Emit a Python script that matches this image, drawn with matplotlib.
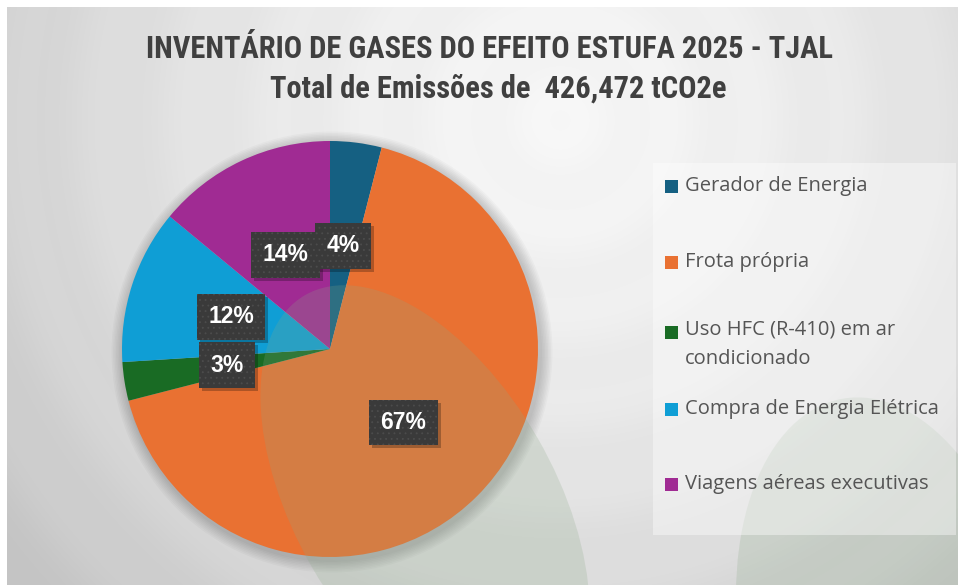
import numpy as np
import matplotlib
matplotlib.use("Agg")
import matplotlib.pyplot as plt
from matplotlib import font_manager as fm
from matplotlib.patches import Ellipse, Rectangle, Circle
import matplotlib.transforms as mtransforms

# dados
categorias = ["Gerador de Energia", "Frota própria", "Uso HFC (R-410) em ar\ncondicionado",
              "Compra de Energia Elétrica", "Viagens aéreas executivas"]
percentuais = [4, 67, 3, 12, 14]
cores = ["#156082", "#e97132", "#196b24", "#0f9ed5", "#a02b93"]
titulo = "INVENTÁRIO DE GASES DO EFEITO ESTUFA 2025 - TJAL"
subtitulo = "Total de Emissões de  426,472 tCO2e"


def fonte_disponivel(nomes, padrao="DejaVu Sans"):
    for n in nomes:
        try:
            fm.findfont(fm.FontProperties(family=n), fallback_to_default=False)
            return n
        except ValueError:
            pass
    return padrao


fonte_titulo = fonte_disponivel(["Liberation Sans Narrow", "Roboto Condensed", "Roboto"])
fonte_legenda = fonte_disponivel(["Open Sans", "Noto Sans", "Lato"])
fonte_rotulo = fonte_disponivel(["Liberation Sans", "Arial"])

W, H = 958, 585
fig = plt.figure(figsize=(W / 100, H / 100), dpi=100)
fig.patch.set_facecolor("white")
ax = fig.add_axes([0, 0, 1, 1])
ax.axis("off")

# fundo com gradiente radial
xx, yy = np.meshgrid(np.arange(W), np.arange(H))
r = np.sqrt((xx - 560) ** 2 + (yy - 120) ** 2)
v = 0.965 - 0.2 * (r / 720) ** 1.5 + 0.006 * np.sin(r / 14.0)
v = np.clip(v, 0, 1)
img = np.dstack([v, v, v])
img[:7, :, :] = 1.0
img[:, :7, :] = 1.0
ax.imshow(img, extent=(0, W, 0, H), origin="upper", zorder=0, interpolation="bilinear")

# pizza
cx, cy, R = 330, H - 349, 208
for k in range(8):
    ax.add_patch(Circle((cx + 2, cy - 3), R + 2 + k * 1.5, color="black",
                        alpha=0.025, lw=0, zorder=1))
wedges, textos, autos = ax.pie(percentuais, colors=cores, startangle=90, counterclock=False,
                               center=(cx, cy), radius=R, autopct="%d%%", pctdistance=0.5,
                               wedgeprops=dict(linewidth=0),
                               textprops=dict(color="white", fontsize=16.5, fontweight="bold",
                                              family=fonte_rotulo))
for w in wedges:
    w.set_zorder(2)
ax.set_xlim(0, W)
ax.set_ylim(0, H)
ax.set_aspect("equal")
ax.axis("off")

# formas verdes decorativas
verde = "#8aa886"
ax.add_patch(Ellipse((425, H - 503), 260, 480, angle=30, color=verde, alpha=0.22, lw=0, zorder=3))
ax.add_patch(Ellipse((885, H - 640), 290, 490, angle=10, color=verde, alpha=0.22, lw=0, zorder=3))

# caixa da legenda
ax.add_patch(Rectangle((653, H - 535), 303, 372, facecolor="white", alpha=0.4, lw=0, zorder=4))
leg_y = [186, 262, 332, 409, 484]
for cat, cor, y in zip(categorias, cores, leg_y):
    ax.add_patch(Rectangle((665, H - y - 6.5), 13, 13, facecolor=cor, lw=0, zorder=5))
    if "\n" in cat:
        ax.text(685, H - y + 12.5, cat, fontsize=14.5, color="#555555", family=fonte_legenda,
                va="top", ha="left", zorder=5, linespacing=1.6)
    else:
        ax.text(685, H - y, cat, fontsize=14.5, color="#555555", family=fonte_legenda,
                va="center", ha="left", zorder=5)

# rótulos com caixa escura e sombra
plt.rcParams["hatch.linewidth"] = 0.6
caixa = "square,pad=0.5"
for t in autos:
    t.set_zorder(7)
    t.set_bbox(dict(boxstyle=caixa, facecolor="#3a3a3a", edgecolor="#4c4c4c",
                    hatch="...", linewidth=0))
    x, y = t.get_position()
    tr = mtransforms.offset_copy(ax.transData, fig=fig, x=3, y=-3, units="dots")
    ax.text(x, y, t.get_text(), transform=tr, ha="center", va="center", fontsize=16.5,
            fontweight="bold", family=fonte_rotulo, color=(0, 0, 0, 0), zorder=6,
            bbox=dict(boxstyle=caixa, facecolor="black", alpha=0.25, lw=0))

# títulos
ax.text(490, H - 49, titulo, ha="center", va="center", fontsize=22, fontweight="bold",
        color="#404040", family=fonte_titulo, zorder=5)
ax.text(498, H - 89, subtitulo, ha="center", va="center", fontsize=22, fontweight="bold",
        color="#404040", family=fonte_titulo, zorder=5)

fig.savefig("out.png", dpi=100)
